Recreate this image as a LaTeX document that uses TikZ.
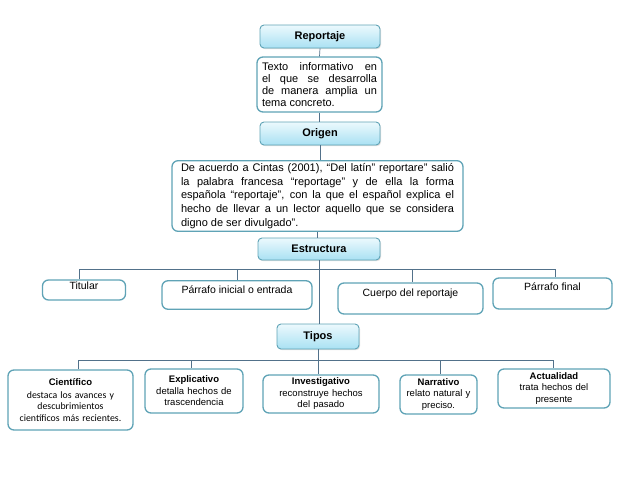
\documentclass[tikz,border=0pt]{standalone}
\usepackage{fontspec}
\setmainfont{Liberation Sans}
\newfontfamily\calfont{Carlito}
\usetikzlibrary{shadows}
\definecolor{bordc}{HTML}{5FA3B6}
\definecolor{linec}{HTML}{52718A}
\definecolor{topc}{HTML}{ECF9FD}
\definecolor{botc}{HTML}{A9E1F3}
\tikzset{
  hdr/.style={draw=bordc, line width=0.9pt, rounded corners=4pt, top color=topc, bottom color=botc,
    minimum width=120pt, minimum height=23pt, inner sep=0pt,
    font=\bfseries\fontsize{11}{13}\selectfont,
    drop shadow={shadow xshift=1pt, shadow yshift=-1.2pt, opacity=0.25}},
  tbox/.style={draw=bordc, line width=1.3pt, rounded corners=6pt, fill=white, inner sep=0pt},
  sbox/.style={tbox, align=center, font=\fontsize{9.5}{11.5}\selectfont},
  lbox/.style={tbox, font=\fontsize{10.5}{12}\selectfont},
  conn/.style={draw=linec, line width=0.7pt},
}
\begin{document}
\begin{tikzpicture}[x=1pt,y=-1pt]
\useasboundingbox (0,0) rectangle (638,479);
% top chain
\node[hdr] (rep) at (320,36.5) {Reportaje};
\node[tbox, minimum width=125pt, minimum height=55pt, text width=115pt, align=justify, inner ysep=1.5pt,
  font=\fontsize{11}{12}\selectfont] (txt) at (319.5,84.5)
  {Texto informativo en\linebreak el que se desarrolla\linebreak de manera amplia un\linebreak tema concreto.};
\node[hdr] (ori) at (320,133.5) {Origen};
\node[tbox, minimum width=291pt, minimum height=70pt, text width=273pt, align=justify, inner ysep=2.5pt,
  font=\fontsize{11}{13.8}\selectfont] (big) at (317.5,196)
  {De acuerdo a Cintas (2001), “Del latín” reportare” salió\linebreak la palabra francesa “reportage” y de ella la forma\linebreak española “reportaje”, con la que el español explica el\linebreak hecho de llevar a un lector aquello que se considera\linebreak digno de ser divulgado”.};
\node[hdr, minimum width=122pt, minimum height=22pt] (est) at (319,249) {Estructura};
% estructura children
\node[lbox, minimum width=83pt, text height=9pt, text depth=11pt] (tit) at (84,290) {Titular};
\node[lbox, minimum width=150pt, text height=12.5pt, text depth=16pt] (pin) at (237,295) {Párrafo inicial o entrada};
\node[lbox, minimum width=145pt, text height=13pt, text depth=18pt] (cue) at (410.5,298.5) {Cuerpo del reportaje};
\node[lbox, minimum width=119pt, text height=12pt, text depth=19pt] (pfi) at (552.5,293.5) {Párrafo final};
\node[hdr, minimum width=82pt, minimum height=25pt] (tip) at (318,336.5) {Tipos};
% tipos children
\node[sbox, minimum width=125pt, minimum height=60pt, text width=120pt] (cie) at (70.5,400)
  {\textbf{Científico}\\[1pt]{\calfont\fontsize{9.8}{11.5}\selectfont destaca los avances y\\ descubrimientos\\ científicos más recientes.}};
\node[sbox, minimum width=98pt, minimum height=44pt, text width=94pt] (exp) at (194,391)
  {\textbf{Explicativo}\\ detalla hechos de\\ trascendencia};
\node[sbox, minimum width=116pt, minimum height=38pt, text width=112pt] (inv) at (321,394)
  {\textbf{Investigativo}\\ reconstruye hechos\\ del pasado};
\node[sbox, minimum width=77pt, minimum height=39pt, text width=74pt] (nar) at (438.5,394.5)
  {\textbf{Narrativo}\\ relato natural y\\ preciso.};
\node[sbox, minimum width=112pt, minimum height=39pt, text width=108pt] (act) at (554,388.5)
  {\textbf{Actualidad}\\ trata hechos del\\ presente};
% connectors
\coordinate (bus1) at (0,269.5);
\coordinate (bus2) at (0,360.5);
\draw[conn] (rep.south) -- (txt.north);
\draw[conn] (txt.south) -- (txt.south |- ori.north);
\draw[conn] (ori.south) -- (ori.south |- big.north);
\draw[conn] (big.south) -- (big.south |- est.north);
\draw[conn] (est.south) -- (est.south |- tip.north);
\draw[conn] ([xshift=-5pt]tit.north) |- ([xshift=2.5pt]pfi.north |- bus1) -- ([xshift=2.5pt]pfi.north);
\draw[conn] (pin.north |- bus1) -- (pin.north);
\draw[conn] ([xshift=1.5pt]cue.north |- bus1) -- ([xshift=1.5pt]cue.north);
\draw[conn] ([xshift=7.5pt]cie.north) |- ([xshift=-1pt]act.north |- bus2) -- ([xshift=-1pt]act.north);
\draw[conn] ([xshift=-3pt]exp.north |- bus2) -- ([xshift=-3pt]exp.north);
\draw[conn] (tip.south) -- (tip.south |- inv.north);
\draw[conn] ([xshift=1.5pt]nar.north |- bus2) -- ([xshift=1.5pt]nar.north);
\end{tikzpicture}
\end{document}
